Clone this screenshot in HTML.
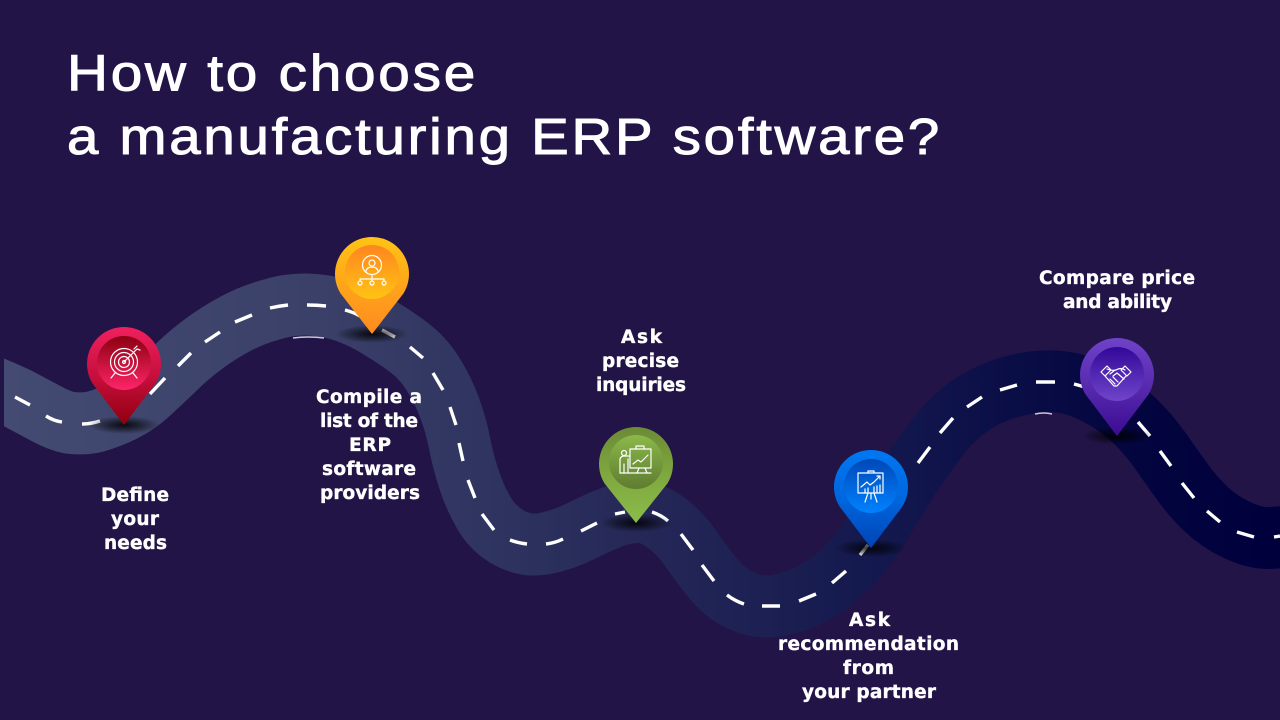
<!DOCTYPE html>
<html><head><meta charset="utf-8"><style>
html,body{margin:0;padding:0;background:#231447}
svg{display:block}
.t{font-family:"Liberation Sans",sans-serif;font-size:51px;letter-spacing:2.5px;fill:#fff;stroke:#fff;stroke-width:1px}
.l{font-family:"DejaVu Sans",sans-serif;font-weight:700;font-size:18.5px;fill:#fff;stroke:#fff;stroke-width:.35px}
.i{fill:none;stroke:#fff;stroke-width:1.2;stroke-linecap:round;stroke-linejoin:round}
</style></head><body>
<svg width="1280" height="720" viewBox="0 0 1280 720" xmlns="http://www.w3.org/2000/svg">
<defs>
<linearGradient id="road" gradientUnits="userSpaceOnUse" x1="0" y1="0" x2="1280" y2="0">
<stop offset="0" stop-color="#444b72"/><stop offset=".25" stop-color="#3a4068"/><stop offset=".38" stop-color="#2f3460"/><stop offset=".5" stop-color="#252857"/><stop offset=".7" stop-color="#12174d"/><stop offset=".87" stop-color="#040640"/><stop offset="1" stop-color="#00003c"/>
</linearGradient>
<clipPath id="c"><rect x="4" y="0" width="1276" height="720"/></clipPath>
<radialGradient id="sh"><stop offset="0" stop-color="#000" stop-opacity=".85"/><stop offset=".5" stop-color="#000" stop-opacity=".45"/><stop offset="1" stop-color="#000" stop-opacity="0"/></radialGradient>
<linearGradient id="r1" x1="0" y1="0" x2="0" y2="1"><stop offset="0" stop-color="#f0205f"/><stop offset=".5" stop-color="#c70f3e"/><stop offset="1" stop-color="#8f000e"/></linearGradient>
<linearGradient id="r2" x1="0" y1="0" x2="0" y2="1"><stop offset="0" stop-color="#8c0010"/><stop offset="1" stop-color="#ff2468"/></linearGradient>
<linearGradient id="o1" x1="0" y1="0" x2="0" y2="1"><stop offset="0" stop-color="#ffc414"/><stop offset=".5" stop-color="#ffa51a"/><stop offset="1" stop-color="#ff8a20"/></linearGradient>
<linearGradient id="o2" x1="0" y1="0" x2="0" y2="1"><stop offset="0" stop-color="#ff851f"/><stop offset="1" stop-color="#ffc414"/></linearGradient>
<linearGradient id="g1" x1="0" y1="0" x2="0" y2="1"><stop offset="0" stop-color="#6b8a36"/><stop offset=".5" stop-color="#7fa83f"/><stop offset="1" stop-color="#8bbb4a"/></linearGradient>
<linearGradient id="g2" x1="0" y1="0" x2="0" y2="1"><stop offset="0" stop-color="#8bb84a"/><stop offset="1" stop-color="#5f7c30"/></linearGradient>
<linearGradient id="b1" x1="0" y1="0" x2="0" y2="1"><stop offset="0" stop-color="#0078f2"/><stop offset=".5" stop-color="#0066de"/><stop offset="1" stop-color="#0044b4"/></linearGradient>
<linearGradient id="b2" x1="0" y1="0" x2="0" y2="1"><stop offset="0" stop-color="#0048b8"/><stop offset="1" stop-color="#0082ff"/></linearGradient>
<linearGradient id="p1" x1="0" y1="0" x2="0" y2="1"><stop offset="0" stop-color="#6f43c9"/><stop offset=".55" stop-color="#5427ab"/><stop offset="1" stop-color="#3b0b92"/></linearGradient>
<linearGradient id="p2" x1="0" y1="0" x2="0" y2="1"><stop offset="0" stop-color="#320899"/><stop offset="1" stop-color="#7045cb"/></linearGradient>
</defs>
<rect width="1280" height="720" fill="#231447"/>

<text class="t" x="67" y="90.5" textLength="411" lengthAdjust="spacingAndGlyphs">How to choose</text>
<text class="t" x="67" y="154" textLength="875" lengthAdjust="spacingAndGlyphs">a manufacturing ERP software?</text>

<g clip-path="url(#c)">
<path fill="none" stroke="url(#road)" stroke-width="62" d="M-20 382Q4 392 17 398Q30 405 46 413.5Q62 422 72 423Q82 424 91 422.5Q100 421 117.5 413.5Q135 406 150 392Q165 378 178 365.5Q191 353 205.5 342.5Q220 332 236 323.5Q252 315 270 310Q288 304 307 304.5Q326 305 343 310.5Q360 316 377.5 326.5Q395 337 409 347.5Q423 358 433 374Q443 390 449.5 407.5Q456 425 459.5 443Q463 461 469 479.5Q475 498 484.5 514Q494 530 510.5 538.5Q527 547 545 543.5Q563 540 580 531.5Q597 523 611 517.5Q625 512 638.5 512Q652 512 666.5 523Q681 534 691.5 549.5Q702 565 714.5 580Q727 595 744.5 602Q762 609 780.5 605Q799 601 815.5 592Q832 583 846 569Q860 555 870 540Q880 525 893.5 502.5Q907 480 918.5 463.5Q930 447 941.5 432.5Q953 418 967.5 407.5Q982 397 999.5 390.5Q1017 384 1036 382Q1055 380 1070 383.5Q1085 387 1103.5 397.5Q1122 408 1136 422Q1150 436 1160.5 451Q1171 466 1182.5 482Q1194 498 1207 510Q1220 522 1237 530Q1254 538 1267 538Q1280 538 1300 535"/>
</g>
<path fill="none" stroke="#fff" stroke-width="3.4" d="M15 397L30 405M46 416Q54 421 62 422M82 424Q91 424 100 421M150 394L165 378M178 366L191 353M205 342L220 332M235 322L252 315M270 308Q279 306 288 305M307 305Q317 305 326 306M345 310Q353 312 360 316M382 330L395 337M410 347L423 358M433 373L443 390M450 407L456 425M459 443L463 461M468 480L475 498M482 514L494 530M510 540Q518 543 527 544M546 544Q555 543 563 539M581 531L597 523M615 514L625 512M652 512Q661 515 668 521M681 534L693 550M702 565L714 581M727 595Q735 601 744 604M762 606L780 606M799 601L816 594M832 583L846 571M860 555L868 545M918 463L930 447M940 433L953 418M967 407L982 397M1000 390L1017 385M1036 382L1055 382M1074 384L1085 387M1138 422L1150 436M1160 451L1171 466M1182 483L1194 498M1207 511L1220 522M1237 532L1254 537M1274 537L1280 536"/>
<path fill="none" stroke="#c9c9d4" stroke-width="1.6" d="M293 338Q308 336 324 338M1035 414Q1044 412 1052 414"/>

<ellipse cx="124" cy="425" rx="36" ry="9" fill="url(#sh)"/>
<ellipse cx="372" cy="334" rx="36" ry="9" fill="url(#sh)"/>
<ellipse cx="636" cy="523" rx="36" ry="9" fill="url(#sh)"/>
<ellipse cx="871" cy="548" rx="36" ry="9" fill="url(#sh)"/>
<ellipse cx="1117" cy="436" rx="36" ry="9" fill="url(#sh)"/>

<!-- red pin -->
<g transform="translate(124,364)">
<path d="M0 61L-31.5 19.4A37 37 0 1 1 31.5 19.4Z" fill="url(#r1)"/>
<circle r="27" fill="url(#r2)" cy="-1"/>
<g class="i"><circle cy="-2" r="13.5"/><circle cy="-2" r="9.5"/><circle cy="-2" r="5.5"/><circle cy="-2" r="1.5"/><path d="M0-2L13-15M10-15L13-18M13-15L16-14M-9 9L-13 14M9 9L13 14"/></g>
</g>
<!-- orange pin -->
<g transform="translate(372,274)">
<path d="M0 60L-31.5 19.4A37 37 0 1 1 31.5 19.4Z" fill="url(#o1)"/>
<circle r="27" cy="-2" fill="url(#o2)"/>
<g class="i"><circle cy="-9" r="9.5"/><circle cy="-11" r="3"/><path d="M-6-3Q-5-7 0-7Q5-7 6-3M0 1V7M-12 7V5H12V7M0 5V7"/><circle cx="-12" cy="9" r="2"/><circle cx="0" cy="9" r="2"/><circle cx="12" cy="9" r="2"/></g>
</g>
<!-- green pin -->
<g transform="translate(636,464)">
<path d="M0 59L-31.5 19.4A37 37 0 1 1 31.5 19.4Z" fill="url(#g1)"/>
<circle r="27" cy="-2" fill="url(#g2)"/>
<g class="i"><rect x="-6" y="-15" width="21" height="19"/><path d="M0-15V-18H8V-15M-5 9H15M3 4L1 9M9 4L11 9M-16 9H15M-3 0L2-4L5-2L12-9"/><circle cx="-12" cy="-11" r="2.5"/><path d="M-16 9V-5Q-15-8-12-8H-6M-8-5V9M-12 9V0"/></g>
</g>
<!-- blue pin -->
<g transform="translate(871,487)">
<path d="M0 61L-31.5 19.4A37 37 0 1 1 31.5 19.4Z" fill="url(#b1)"/>
<circle r="27" cy="-1" fill="url(#b2)"/>
<g class="i"><rect x="-13" y="-14" width="25" height="20"/><path d="M-3-14V-16H3V-14M-3 6L-6 15M3 6L6 15M0 6V12M-10 0L-4-5L-1-2L3-5L9-11M6-11H9V-8M-6 6V2M-3 6V1M3 6V0M6 6V-1M9 6V-2"/></g>
</g>
<!-- purple pin -->
<g transform="translate(1117,375)">
<path d="M0 61L-31.5 19.4A37 37 0 1 1 31.5 19.4Z" fill="url(#p1)"/>
<circle r="27" cy="-1" fill="url(#p2)"/>
<g class="i"><path d="M-16-3L-10-9L-6-5L-12 1ZM14-3L8-9L4-5L10 1ZM-10-6Q-5-4-1-5Q4-8 8-5M-12 1L-3 11L0 11L9 1M-7-1L-2-5M-4 1L0-2L7 4M-7 4L-2 9M-4 2L1 7"/></g>
</g>

<g class="l" text-anchor="start">
<text x="101" y="501" textLength="68">Define</text>
<text x="111" y="525" textLength="48">your</text>
<text x="104" y="549" textLength="63">needs</text>

<text x="316" y="403" textLength="106">Compile a</text>
<text x="320" y="427" textLength="98">list of the</text>
<text x="349" y="451" textLength="42">ERP</text>
<text x="322" y="475" textLength="94">software</text>
<text x="320" y="499" textLength="100">providers</text>

<text x="621" y="343" textLength="41">Ask</text>
<text x="602" y="367" textLength="77">precise</text>
<text x="596" y="391" textLength="90">inquiries</text>

<text x="849" y="626" textLength="41">Ask</text>
<text x="778" y="650" textLength="181">recommendation</text>
<text x="843" y="674" textLength="51">from</text>
<text x="802" y="698" textLength="134">your partner</text>

<text x="1039" y="284" textLength="156">Compare price</text>
<text x="1063" y="308" textLength="109">and ability</text>
</g>
</svg>
</body></html>
